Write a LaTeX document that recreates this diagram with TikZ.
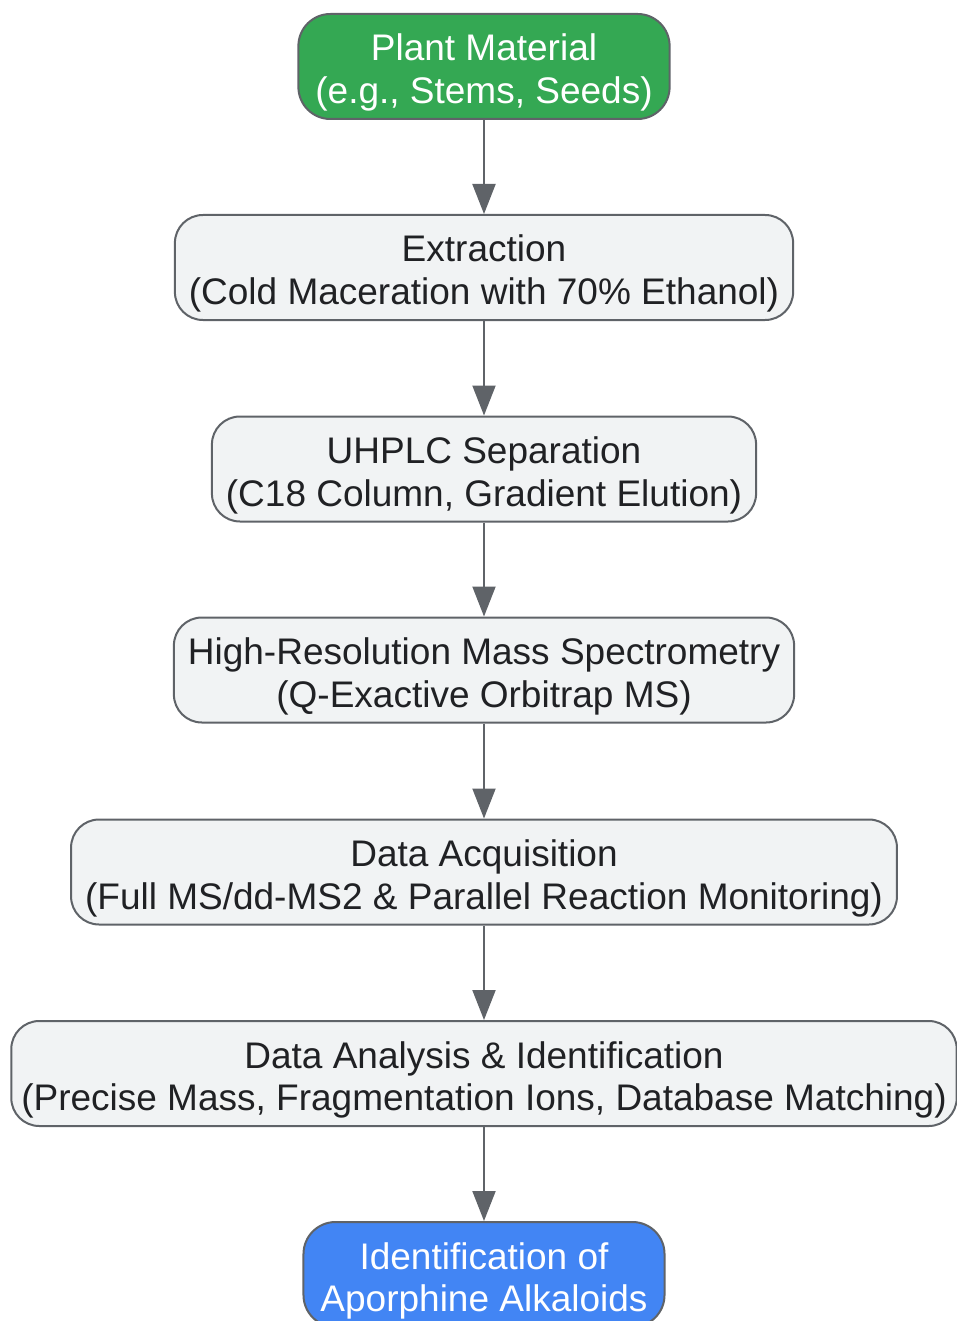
\documentclass[tikz,border=0pt]{standalone}
\usepackage{fontspec}
\setmainfont{Liberation Sans}
\usetikzlibrary{arrows.meta}
\definecolor{stagegray}{HTML}{F1F3F4}
\definecolor{edgegray}{HTML}{5F6368}
\definecolor{textgray}{HTML}{202124}
\definecolor{startgreen}{HTML}{34A853}
\definecolor{endblue}{HTML}{4285F4}
\begin{document}
\begin{tikzpicture}[x=1pt, y=1pt,
  stage/.style={draw=edgegray, line width=2pt, fill=stagegray, text=textgray, rounded corners=28pt,
    minimum height=105pt, inner xsep=14pt, text height=82pt, text depth=8pt,
    align=center, font=\fontsize{37}{42.5}\selectfont},
  start/.style={stage, fill=startgreen, text=white, inner xsep=17pt, rounded corners=32pt},
  finish/.style={stage, fill=endblue, text=white, inner xsep=17pt, rounded corners=32pt},
  flow/.style={draw=edgegray, line width=2pt, -{Triangle[length=30pt, width=23pt]}}]
\useasboundingbox (0,0) rectangle (956,-1321);
\node[start] (plant) at (484,-66.5) {Plant Material\\(e.g., Stems, Seeds)};
\node[stage] (extract) at (484,-267.5) {Extraction\\(Cold Maceration with 70\% Ethanol)};
\node[stage] (uhplc) at (484,-469) {UHPLC Separation\\(C18 Column, Gradient Elution)};
\node[stage] (hrms) at (484,-670) {High-Resolution Mass Spectrometry\\(Q-Exactive Orbitrap MS)};
\node[stage] (acquire) at (484,-872) {Data Acquisition\\(Full MS/dd-MS2 \& Parallel Reaction Monitoring)};
\node[stage, inner xsep=10pt] (analyse) at (484,-1073.5) {Data Analysis \& Identification\\(Precise Mass, Fragmentation Ions, Database Matching)};
\node[finish] (result) at (484,-1274.5) {Identification of\\Aporphine Alkaloids};

\draw[flow] (plant) -- (extract);
\draw[flow] (extract) -- (uhplc);
\draw[flow] (uhplc) -- (hrms);
\draw[flow] (hrms) -- (acquire);
\draw[flow] (acquire) -- (analyse);
\draw[flow] (analyse) -- (result);
\end{tikzpicture}
\end{document}
